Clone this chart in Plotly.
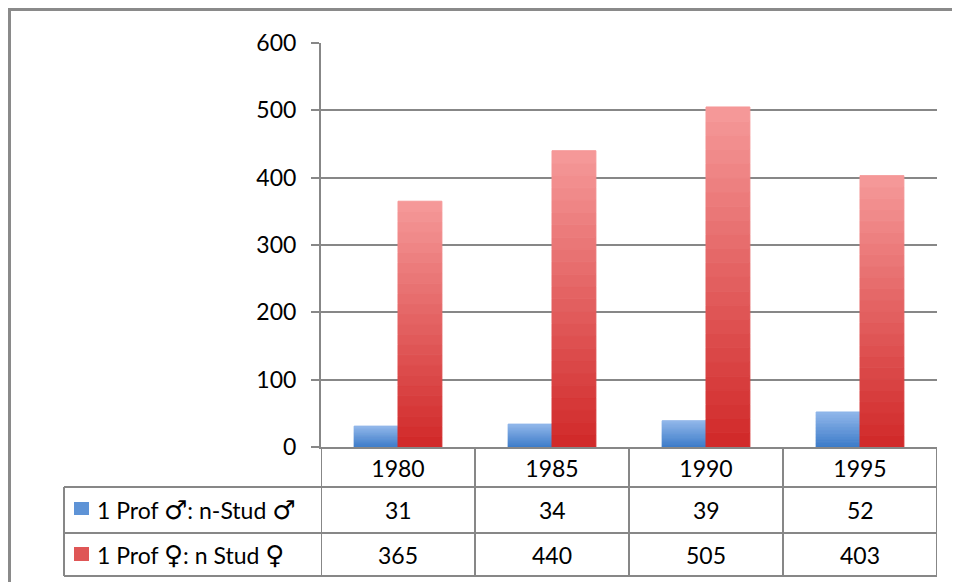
import plotly.graph_objects as go

# ---- data ----
years = ["1980", "1985", "1990", "1995"]
male_ratio = [31, 34, 39, 52]
female_ratio = [365, 440, 505, 403]
series_names = ["1 Prof \u2642: n-Stud \u2642", "1 Prof \u2640: n Stud \u2640"]
y_ticks = [0, 100, 200, 300, 400, 500, 600]

# ---- style ----
OFF = 8  # page body margin offset
W, H = 960 - OFF, 582 - OFF
ML, MT = 321 - OFF, 43 - OFF
PLOT_R, PLOT_B = 937 - OFF, 447 - OFF
MR, MB = W - PLOT_R, H - PLOT_B
PW, PH = W - ML - MR, H - MT - MB
GRID = "#878787"
FONT = dict(family="Lato, Carlito, 'Open Sans', sans-serif", size=23, color="#000000")
blue_grad = ("#3d7cc9", "#8fb5e9")   # bottom, top
red_grad = ("#d12a2a", "#f59898")
N_SEG = 24


def px_x(px):
    return (px - OFF - ML) / PW


def px_y(py):
    return (PLOT_B - (py - OFF)) / PH


def interp(c0, c1, t):
    a = [int(c0[i:i + 2], 16) for i in (1, 3, 5)]
    b = [int(c1[i:i + 2], 16) for i in (1, 3, 5)]
    return "rgb(%d,%d,%d)" % tuple(round(a[j] + (b[j] - a[j]) * t) for j in range(3))


def sym(s):
    out = ""
    for ch in s:
        if ch in "\u2642\u2640":
            out += "<span style=\"font-family:'DejaVu Sans';font-size:26px\">%s</span>" % ch
        else:
            out += ch
    return out


fig = go.Figure()
for name, vals, grad, grp in [(series_names[0], male_ratio, blue_grad, "m"),
                              (series_names[1], female_ratio, red_grad, "f")]:
    for k in range(N_SEG):
        c = interp(grad[0], grad[1], k / (N_SEG - 1))
        fig.add_trace(go.Bar(
            x=years,
            y=[v / N_SEG for v in vals],
            base=[v * k / N_SEG for v in vals],
            offsetgroup=grp,
            name=name,
            marker=dict(color=c, line=dict(width=1, color=c)),
            showlegend=False,
            hoverinfo="skip",
        ))

shapes = []
annotations = []

# table geometry (screen pixels)
row1 = 487
row2 = 533
row3 = 576
tbl_left = 64

for i in range(len(years) + 1):
    shapes.append(dict(type="line", xref="x", yref="paper", x0=i - 0.5, x1=i - 0.5,
                       y0=px_y(row3), y1=0, line=dict(color=GRID, width=2)))
shapes.append(dict(type="line", xref="paper", yref="paper", x0=px_x(tbl_left), x1=px_x(tbl_left),
                   y0=px_y(row3), y1=px_y(row1), line=dict(color=GRID, width=2)))
for py in (row1, row2, row3):
    shapes.append(dict(type="line", xref="paper", yref="paper", x0=px_x(tbl_left), x1=1,
                       y0=px_y(py), y1=px_y(py), line=dict(color=GRID, width=2)))
# outer chart border
shapes.append(dict(type="rect", xref="paper", yref="paper", x0=px_x(9.5), x1=px_x(1300),
                   y0=px_y(1000), y1=px_y(9.5), line=dict(color="#8a8a8a", width=3)))

for (name, vals, grad), (ky0, ky1), yc in zip(
        [(series_names[0], male_ratio, blue_grad), (series_names[1], female_ratio, red_grad)],
        [(502, 515), (547, 561)],
        [(row1 + row2) / 2, (row2 + row3) / 2]):
    shapes.append(dict(type="rect", xref="paper", yref="paper",
                       x0=px_x(74), x1=px_x(89), y0=px_y(ky1), y1=px_y(ky0),
                       fillcolor=interp(grad[0], grad[1], 0.4), line=dict(width=0)))
    annotations.append(dict(xref="paper", yref="paper", x=px_x(95), y=px_y(yc),
                            text=sym(name), showarrow=False, xanchor="left", yanchor="middle",
                            font=FONT))
    for i, v in enumerate(vals):
        annotations.append(dict(xref="x", yref="paper", x=i, y=px_y(yc), text=str(v),
                                showarrow=False, xanchor="center", yanchor="middle", font=FONT))

fig.update_layout(
    width=W, height=H, autosize=False,
    margin=dict(l=ML, r=MR, t=MT, b=MB, pad=0),
    paper_bgcolor="white", plot_bgcolor="white",
    barmode="group", bargap=0.43, bargroupgap=0,
    font=FONT,
    shapes=shapes, annotations=annotations,
    showlegend=False,
)
fig.update_yaxes(range=[0, 600], tickvals=y_ticks, showgrid=True, gridcolor=GRID, gridwidth=2,
                 zeroline=False, showline=True, linecolor=GRID, linewidth=2,
                 ticks="outside", ticklen=8, tickcolor=GRID, tickwidth=2,
                 tickfont=FONT, ticklabelstandoff=10)
fig.update_xaxes(type="category", range=[-0.5, 3.5], showgrid=False, zeroline=False,
                 showline=True, linecolor=GRID, linewidth=2, ticks="", tickfont=FONT,
                 ticklabelstandoff=0)

fig.write_html("out.html")
